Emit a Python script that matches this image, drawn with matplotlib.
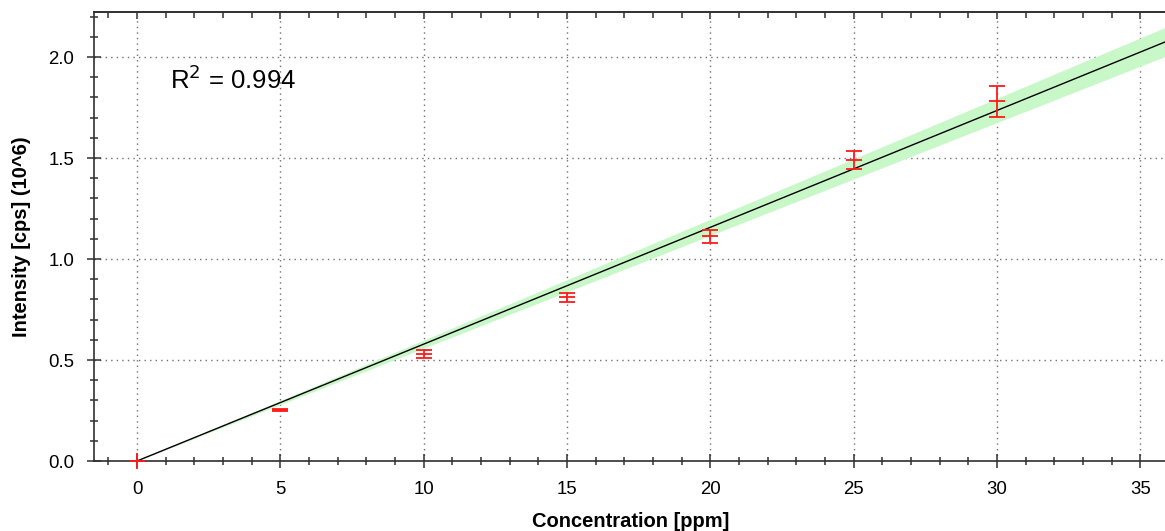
import numpy as np
import matplotlib
matplotlib.use("Agg")
import matplotlib.pyplot as plt
from matplotlib.ticker import MultipleLocator, FormatStrFormatter, NullFormatter

plt.rcParams['font.family'] = ['Liberation Sans', 'DejaVu Sans']

# ---- data ----
concentration = [0, 5, 10, 15, 20, 25, 30]
intensity = [0.0, 0.252, 0.528, 0.810, 1.112, 1.490, 1.781]
intensity_err = [0.0, 0.005, 0.020, 0.023, 0.031, 0.046, 0.076]
r_squared_label = "R$^2$ = 0.994"
band_halfwidth_per_ppm = 0.002   # confidence band half-width per ppm
x_label = "Concentration [ppm]"
y_label = "Intensity [cps] (10^6)"

x = np.array(concentration, dtype=float)
y = np.array(intensity, dtype=float)
slope = np.sum(x * y) / np.sum(x * x)   # fit through origin

fig = plt.figure(figsize=(11.65, 5.31), dpi=100)
ax = fig.add_axes([94 / 1165, 70 / 531, (1167 - 94) / 1165, (461 - 12) / 531])

xmin, xmax = -1.5, 35.93
ax.set_xlim(xmin, xmax)
ax.set_ylim(0, 2.223)

# fit line and confidence band
xf = np.linspace(0, xmax, 200)
yf = slope * xf
ax.fill_between(xf, yf - band_halfwidth_per_ppm * xf, yf + band_halfwidth_per_ppm * xf,
                color='#c8f8c8', lw=0, zorder=2)
ax.plot(xf, yf, color='black', lw=1.0, zorder=3)

# data points
red = '#ff1a1a'
ax.errorbar(x[1:], y[1:], yerr=intensity_err[1:], fmt='_', color=red,
            ecolor=red, elinewidth=1.3, capsize=6, capthick=1.3,
            markersize=12, markeredgewidth=1.3, zorder=4)
ax.plot(x[:1], y[:1], marker='+', color=red, markersize=12, mew=1.3,
        ls='none', zorder=4, clip_on=False)

ax.text(1.15, 1.84, r_squared_label, fontsize=18.5, va='baseline', ha='left')

# ticks / grid
ax.xaxis.set_major_locator(MultipleLocator(5))
ax.xaxis.set_minor_locator(MultipleLocator(1))
ax.yaxis.set_major_locator(MultipleLocator(0.5))
ax.yaxis.set_minor_locator(MultipleLocator(0.1))
ax.yaxis.set_major_formatter(FormatStrFormatter('%.1f'))
ax.grid(True, which='major', color='#707070', ls=(0, (1, 3)), lw=1.0, zorder=1)

for s in ['left', 'bottom', 'top']:
    ax.spines[s].set_color('#303030')
    ax.spines[s].set_linewidth(1.2)
ax.spines['right'].set_visible(False)

ax.tick_params(axis='both', which='major', direction='inout', length=10.5,
               width=1.1, color='#303030', labelsize=13.4, pad=9)
ax.tick_params(axis='both', which='minor', direction='inout', length=5.5,
               width=1.1, color='#303030')
ax.tick_params(axis='x', which='both', top=False)

# top axis with inward ticks only
sec = ax.secondary_xaxis('top')
sec.xaxis.set_major_locator(MultipleLocator(5))
sec.xaxis.set_minor_locator(MultipleLocator(1))
sec.xaxis.set_major_formatter(NullFormatter())
sec.tick_params(which='major', direction='in', length=5, width=1.1, color='#303030')
sec.tick_params(which='minor', direction='in', length=4, width=1.1, color='#303030')
sec.spines['top'].set_color('#303030')
sec.spines['top'].set_linewidth(1.2)

ax.set_xlabel(x_label, fontsize=14.5, fontweight='bold', labelpad=10)
ax.set_ylabel(y_label, fontsize=14.5, fontweight='bold', labelpad=12)

fig.savefig('out.png', dpi=100)
